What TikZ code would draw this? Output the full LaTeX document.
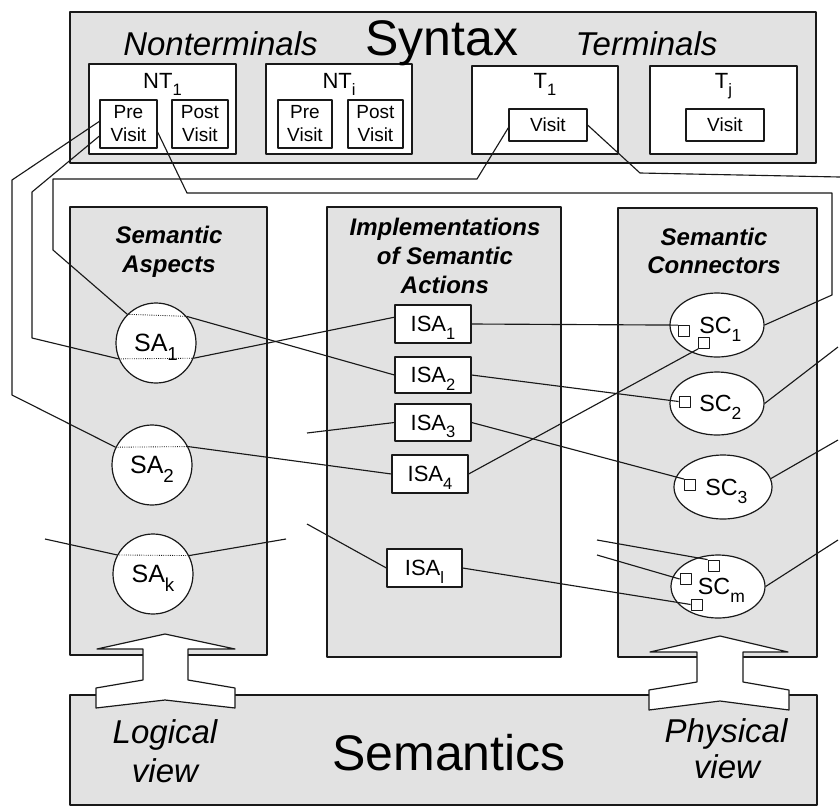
\documentclass[tikz,border=0pt]{standalone}
\usepackage{fontspec}
\setmainfont{Liberation Sans}
\usetikzlibrary{shapes.geometric}
\definecolor{bggray}{RGB}{226,226,226}
\definecolor{ink}{RGB}{25,25,25}
\newcommand{\subx}[1]{\raisebox{-0.33em}{\scalebox{0.75}{#1}}}
\begin{document}
\begin{tikzpicture}[x=0.75pt,y=-0.75pt,line join=round,
  frame/.style={draw=ink,line width=0.9pt},
  grayarea/.style={frame,fill=bggray},
  wbox/.style={frame,fill=white,rectangle,inner sep=0pt},
  sabox/.style={frame,fill=white,circle,inner sep=0pt,minimum size=60pt,text height=13.4pt,text depth=0pt,font=\fontsize{18.75}{20}\selectfont},
  isabox/.style={wbox,minimum width=57pt,minimum height=28.5pt,text height=11.8pt,text depth=0pt,font=\fontsize{16.5}{18}\selectfont},
  scell/.style={frame,fill=white,ellipse,inner sep=0pt,minimum width=70.5pt,minimum height=48pt,text height=12.5pt,text depth=0pt,font=\fontsize{17.5}{19}\selectfont},
  port/.style={draw=ink,line width=0.6pt,fill=white,rectangle,inner sep=0pt,minimum size=8.25pt},
  visitbox/.style={wbox,minimum height=36pt,align=center,font=\fontsize{14.25}{17.25}\selectfont},
  conn/.style={draw=ink,line width=0.85pt},
  hid/.style={draw=ink,line width=0.65pt,densely dotted},
  bigtxt/.style={font=\fontsize{37.5}{40}\selectfont,anchor=base,inner sep=0pt},
  itxt/.style={font=\itshape\fontsize{24.75}{29}\selectfont,anchor=base,inner sep=0pt},
  hd/.style={font=\bfseries\itshape\fontsize{18}{21}\selectfont,anchor=base,inner sep=0pt},
  ntl/.style={font=\fontsize{16.5}{18}\selectfont,anchor=base,inner sep=0pt},
  bridge/.style={frame,fill=white}
]
\useasboundingbox (0,0) rectangle (840,808);

% ---------- Syntax area ----------
\draw[grayarea] (70,12) rectangle (816,163);
\draw[frame,fill=white] (89,64) rectangle (236,154);
\draw[frame,fill=white] (266,64) rectangle (412,154);
\draw[frame,fill=white] (472,66) rectangle (618,154);
\draw[frame,fill=white] (650,66) rectangle (797,154);

\node[itxt] (nonterm) at (220.5,55) {Nonterminals};
\node[bigtxt] (syntax) at (442,55) {Syntax};
\node[itxt] (term) at (646.5,55) {Terminals};

\node[ntl] (nt1) at (162.5,88) {NT\subx{1}};
\node[ntl] (nti) at (339,88) {NT\subx{i}};
\node[ntl] (t1) at (545,88) {T\subx{1}};
\node[ntl] (tj) at (723.5,88) {T\subx{j}};

\node[visitbox,minimum width=42.75pt] (pre1) at (128.5,124) {Pre\\Visit};
\node[visitbox,minimum width=42pt] (post1) at (200,124) {Post\\Visit};
\node[visitbox,minimum width=40.5pt] (prei) at (305,124) {Pre\\Visit};
\node[visitbox,minimum width=41.25pt] (posti) at (375.5,124) {Post\\Visit};
\node[visitbox,minimum width=58.5pt,minimum height=24pt] (vis1) at (548,125) {Visit};
\node[visitbox,minimum width=58.5pt,minimum height=24pt] (visj) at (725,125) {Visit};

% ---------- columns ----------
\draw[grayarea] (70,207) rectangle (267,655);
\draw[grayarea] (327,207) rectangle (561,657);
\draw[grayarea] (618,208) rectangle (817,657);
\draw[grayarea] (70,695) rectangle (817,805);

\node[hd] (sah1) at (169,243) {Semantic};
\node[hd] (sah2) at (169,272) {Aspects};
\node[hd] (isah1) at (445,235) {Implementations};
\node[hd] (isah2) at (445,264) {of Semantic};
\node[hd] (isah3) at (445,293) {Actions};
\node[hd] (sch1) at (714,245) {Semantic};
\node[hd] (sch2) at (714,273) {Connectors};

% semantic aspects
\node[sabox] (sa1) at (156,343) {SA\subx{1}};
\node[sabox] (sa2) at (152,465) {SA\subx{2}};
\node[sabox] (sak) at (153,574) {SA\subx{k}};

% implementations
\node[isabox] (isa1) at (433,324) {ISA\subx{1}};
\node[isabox,minimum height=27pt] (isa2) at (433,375) {ISA\subx{2}};
\node[isabox,minimum height=27.75pt] (isa3) at (433,422.5) {ISA\subx{3}};
\node[isabox] (isa4) at (430,474) {ISA\subx{4}};
\node[isabox,minimum width=56.25pt] (isal) at (424.5,568) {ISA\subx{l}};

% semantic connectors
\node[scell] (sc1) at (717,325) {\hspace*{5pt}SC\subx{1}};
\node[scell,minimum height=47.25pt] (sc2) at (717,403.5) {\hspace*{5pt}SC\subx{2}};
\node[scell,minimum width=73.5pt] (sc3) at (723,487) {\hspace*{5pt}SC\subx{3}};
\node[scell,minimum height=47.25pt] (scm) at (718,586.5) {\hspace*{5pt}SC\subx{m}};

\node[port] (p11) at (684,331) {};
\node[port] (p12) at (704,343) {};
\node[port] (p2) at (684.5,401.5) {};
\node[port] (p3) at (690,485) {};
\node[port] (pma) at (713.5,565.5) {};
\node[port] (pmb) at (685.5,579) {};
\node[port] (pmc) at (696.5,604.5) {};

% free ends
\coordinate (e5) at (840,177);
\coordinate (esc2) at (838,347);
\coordinate (esc3) at (838,440);
\coordinate (escm) at (838,540);
\coordinate (fa) at (597,540);
\coordinate (fb) at (597,555);
\coordinate (f3) at (307,433);
\coordinate (fl) at (307,524);
\coordinate (fkl) at (45,539);
\coordinate (fkr) at (286,539);

% ---------- connectors ----------
% NT1 PreVisit -> SA2 -> ISA4
\draw[conn] ([yshift=2pt]pre1.west) -- (12,180) -- (12,395) -- (sa2.154);
\draw[hid] (sa2.154) -- (sa2.27);
\draw[conn] (sa2.27) -- (isa4.west);
% NT1 PreVisit -> SA1 -> ISA1
\draw[conn] ([yshift=-9pt]pre1.west) -- (32,192) -- (32,338) -- (sa1.203);
\draw[hid] (sa1.203) -- (sa1.338);
\draw[conn] (sa1.338) -- (isa1.170);
% T1 Visit -> SA1 -> ISA2
\draw[conn] ([yshift=-2pt]vis1.west) -- (477,179) -- (53,179) -- (53,250) -- (sa1.135);
\draw[hid] (sa1.135) -- (sa1.41);
\draw[conn] (sa1.41) -- (isa2.west);
% NT1 PreVisit -> SC1
\draw[conn] ([yshift=-6pt]pre1.east) -- (187,193) -- (832,193) -- (832,295) -- (sc1.east);
% T1 Visit -> off picture
\draw[conn] (vis1.east) -- (640,173) -- (e5);

% SAk free lines
\draw[conn] (fkl) -- (sak.152);
\draw[hid] (sak.152) -- (sak.27);
\draw[conn] (sak.27) -- (fkr);

% ISA -> SC
\draw[conn] (isa1.east) -- (p11.north west);
\draw[conn] (isa2.east) -- (p2.west);
\draw[conn] (isa3.east) -- (p3.north west);
\draw[conn] (isa4.east) -- (p12.south west);
\draw[conn] (isal.east) -- (pmc.west);
\draw[conn] (fa) -- (pma.north west);
\draw[conn] (fb) -- (pmb.west);
\draw[conn] (f3) -- (isa3.west);
\draw[conn] (fl) -- (isal.west);

% SC -> right edge
\draw[conn] (sc2.east) -- (esc2);
\draw[conn] (sc3.10) -- (esc3);
\draw[conn] (scm.east) -- (escm);

% ---------- view arrows ----------
\draw[bridge] (97,649) -- (165,634) -- (235,649) -- (188,649) -- (188,680) -- (235,688) -- (235,708) -- (165,700) -- (96,708) -- (96,688) -- (143,680) -- (143,649) -- cycle;
\draw[bridge] (650,652) -- (720,636) -- (788,652) -- (743,652) -- (743,682) -- (789,690) -- (789,710) -- (720,701) -- (649,710) -- (649,690) -- (697,682) -- (697,652) -- cycle;

\node[itxt] (log1) at (165,743) {Logical};
\node[itxt] (log2) at (165,782) {view};
\node[bigtxt] (sem) at (449,770) {Semantics};
\node[itxt] (phy1) at (726,742) {Physical};
\node[itxt] (phy2) at (727,778) {view};
\end{tikzpicture}
\end{document}
